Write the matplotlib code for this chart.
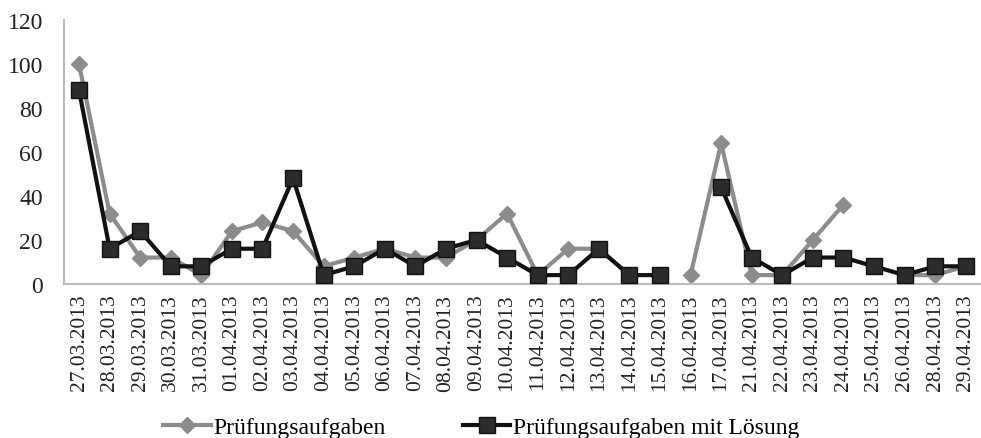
import numpy as np
import matplotlib.pyplot as plt

# dates (categories on the x axis)
dates = ['27.03.2013', '28.03.2013', '29.03.2013', '30.03.2013', '31.03.2013',
         '01.04.2013', '02.04.2013', '03.04.2013', '04.04.2013', '05.04.2013',
         '06.04.2013', '07.04.2013', '08.04.2013', '09.04.2013', '10.04.2013',
         '11.04.2013', '12.04.2013', '13.04.2013', '14.04.2013', '15.04.2013',
         '16.04.2013', '17.04.2013', '21.04.2013', '22.04.2013', '23.04.2013',
         '24.04.2013', '25.04.2013', '26.04.2013', '28.04.2013', '29.04.2013']

nan = np.nan
# Prüfungsaufgaben (gray diamonds)
aufgaben = [100, 32, 12, 12, 4, 24, 28, 24, 8, 12,
            16, 12, 12, 20, 32, 4, 16, 16, 4, nan,
            4, 64, 4, 4, 20, 36, nan, 4, 4, 8]
# Prüfungsaufgaben mit Lösung (black squares)
mit_loesung = [88, 16, 24, 8, 8, 16, 16, 48, 4, 8,
               16, 8, 16, 20, 12, 4, 4, 16, 4, 4,
               nan, 44, 12, 4, 12, 12, 8, 4, 8, 8]

plt.rcParams['font.family'] = ['Liberation Serif', 'DejaVu Serif']

fig = plt.figure(figsize=(9.81, 4.39), dpi=100)
ax = fig.add_axes([0.065, 0.351, 0.935, 0.601])

x = np.arange(len(dates))
ax.plot(x, aufgaben, color='#8c8c8c', lw=3, marker='D', ms=8,
        mfc='#8c8c8c', mec='#8c8c8c', label='Prüfungsaufgaben', zorder=2)
ax.plot(x, mit_loesung, color='#111111', lw=3, marker='s', ms=12,
        mfc='#2b2b2b', mec='#111111', mew=1, label='Prüfungsaufgaben mit Lösung',
        zorder=3)

ax.set_xlim(-0.5, len(dates) - 0.5)
ax.set_ylim(0, 120)
ax.set_yticks(range(0, 121, 20))
ax.set_xticks(x)
ax.set_xticklabels(dates, rotation=90, fontsize=15.5, color='#222222')
ax.tick_params(axis='y', labelsize=17, length=0, pad=15, labelcolor='#222222')
ax.tick_params(axis='x', length=0, pad=7)

for s in ['top', 'right']:
    ax.spines[s].set_visible(False)
for s in ['left', 'bottom']:
    ax.spines[s].set_color('#bbbbbb')
    ax.spines[s].set_linewidth(1.5)

leg = fig.legend(loc='lower left', bbox_to_anchor=(0.145, -0.048), ncol=2,
                 frameon=False, fontsize=17, handlelength=2.0,
                 handletextpad=0.1, columnspacing=3.3)

fig.savefig('out.png', dpi=100)
